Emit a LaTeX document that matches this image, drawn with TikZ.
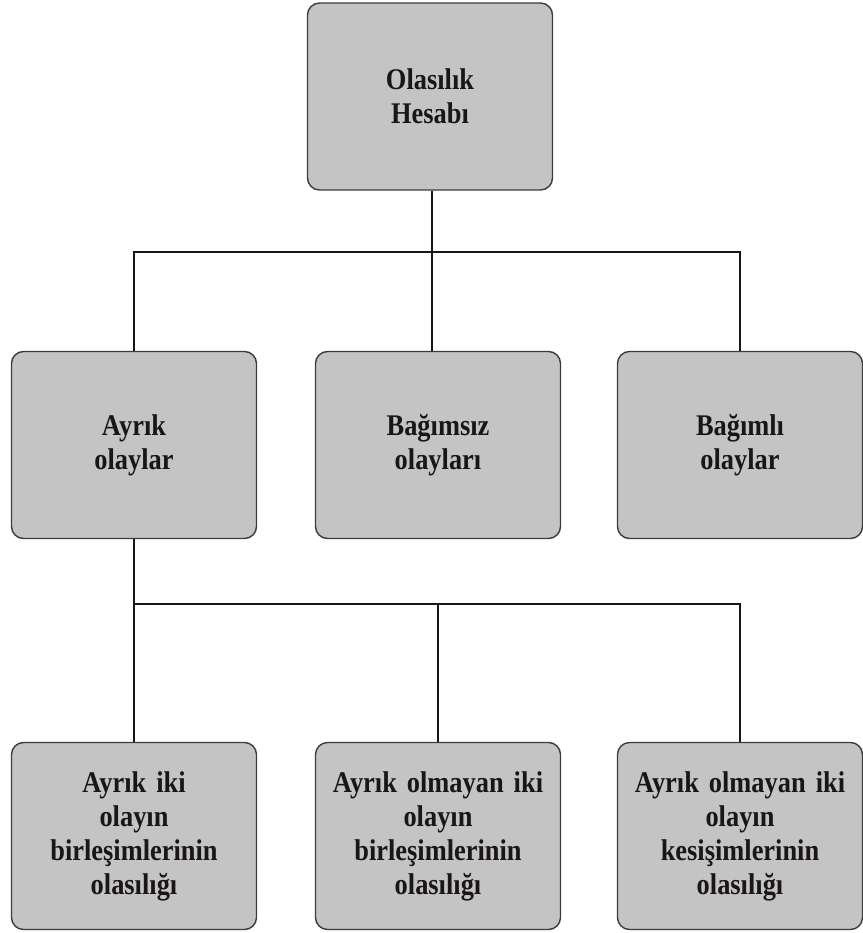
\documentclass[tikz,border=0pt]{standalone}
\usepackage{fontspec}
\setmainfont{Liberation Serif}[FakeStretch=0.88]
\usepackage{tikz}
\usetikzlibrary{positioning,calc}
\definecolor{boxgray}{HTML}{C4C4C4}
\definecolor{edgegray}{HTML}{3C3C3C}
\definecolor{linedark}{HTML}{1A1616}

\tikzset{
  topic/.style={draw=edgegray, fill=boxgray, line width=1.4pt, rounded corners=12pt,
    minimum width=245pt, minimum height=187pt, align=center, text width=238pt,
    text=linedark, font=\fontsize{30}{34}\selectfont\bfseries, inner sep=0pt},
  link/.style={draw=linedark, line width=1.5pt}
}

\begin{document}
\begin{tikzpicture}[x=1pt, y=-1pt]
        \useasboundingbox (0,0) rectangle (862,933);

        % Root
        \node[topic] (root) at (430,96.5) {Olasılık\\Hesabı};

        % Second level
        \node[topic] (ayrik)    at (134,445) {Ayrık\\olaylar};
        \node[topic] (bagimsiz) at (438,445) {Bağımsız\\olayları};
        \node[topic] (bagimli)  at (740,445) {Bağımlı\\olaylar};

        % Third level
        \node[topic] (birAyrik)   at (134,836) {Ayrık iki\\olayın\\birleşimlerinin\\olasılığı};
        \node[topic] (birOlmayan) at (438,836) {Ayrık olmayan iki\\olayın\\birleşimlerinin\\olasılığı};
        \node[topic] (kesOlmayan) at (740,836) {Ayrık olmayan iki\\olayın\\kesişimlerinin\\olasılığı};

        % Connectors
        \coordinate (busTop) at (432,252);
        \coordinate (busLow) at (134,604);
        \draw[link] (root.south -| busTop) -- (bagimsiz.north -| busTop);
        \draw[link] (ayrik.north) |- (busTop) -| (bagimli.north);
        \draw[link] (ayrik.south) -- (birAyrik.north);
        \draw[link] (busLow) -| (birOlmayan.north);
        \draw[link] (busLow) -| (kesOlmayan.north);
      \end{tikzpicture}
\end{document}
